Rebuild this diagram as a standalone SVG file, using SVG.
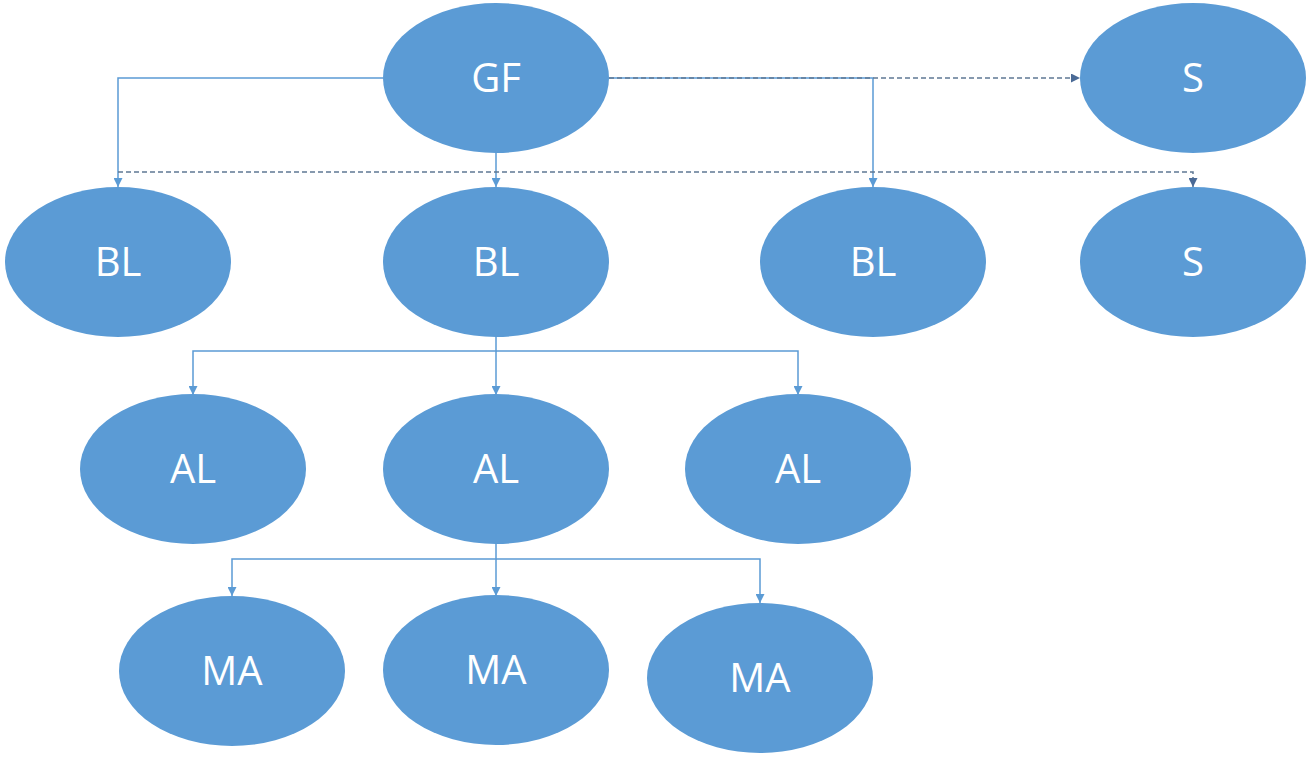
<svg xmlns="http://www.w3.org/2000/svg" width="1313" height="760" viewBox="0 0 1313 760">
<style>
.n{fill:#5B9BD5}
.t{fill:#fff;font-family:"Open Sans","Liberation Sans",sans-serif;font-size:40px;text-anchor:middle;dominant-baseline:central}
.c{fill:none;stroke:#5B9BD5;stroke-width:1.5}
.d{fill:none;stroke:#5F7894;stroke-width:1.5;stroke-dasharray:5 3}
</style>
<defs>
<marker id="a" viewBox="0 0 10 10" refX="10" refY="5" markerWidth="9" markerHeight="9" orient="auto" markerUnits="userSpaceOnUse"><path d="M0,0L10,5L0,10z" fill="#5B9BD5"/></marker>
<marker id="b" viewBox="0 0 10 10" refX="10" refY="5" markerWidth="9" markerHeight="9" orient="auto" markerUnits="userSpaceOnUse"><path d="M0,0L10,5L0,10z" fill="#4A6A96"/></marker>
</defs>
<rect width="1313" height="760" fill="#fff"/>
<g id="connectors">
<path class="c" d="M383,78H118V187" marker-end="url(#a)"/>
<path class="c" d="M496,153V187" marker-end="url(#a)"/>
<path class="c" d="M609,78H873V187" marker-end="url(#a)"/>
<path class="d" d="M609,78H1080" marker-end="url(#b)"/>
<path class="d" d="M118,172H1193V187" marker-end="url(#b)"/>
<path class="c" d="M496,336V351H193V395" marker-end="url(#a)"/>
<path class="c" d="M496,351V395" marker-end="url(#a)"/>
<path class="c" d="M496,351H798V395" marker-end="url(#a)"/>
<path class="c" d="M496,544V559H232V596" marker-end="url(#a)"/>
<path class="c" d="M496,559V596" marker-end="url(#a)"/>
<path class="c" d="M496,559H760V603" marker-end="url(#a)"/>
</g>
<g id="gf"><ellipse class="n" cx="496" cy="78" rx="113" ry="75"/><text class="t" x="496" y="76">GF</text></g>
<g id="s1"><ellipse class="n" cx="1193" cy="78" rx="113" ry="75"/><text class="t" x="1193" y="76">S</text></g>
<g id="bl1"><ellipse class="n" cx="118" cy="262" rx="113" ry="75"/><text class="t" x="118" y="260">BL</text></g>
<g id="bl2"><ellipse class="n" cx="496" cy="262" rx="113" ry="75"/><text class="t" x="496" y="260">BL</text></g>
<g id="bl3"><ellipse class="n" cx="873" cy="262" rx="113" ry="75"/><text class="t" x="873" y="260">BL</text></g>
<g id="s2"><ellipse class="n" cx="1193" cy="262" rx="113" ry="75"/><text class="t" x="1193" y="260">S</text></g>
<g id="al1"><ellipse class="n" cx="193" cy="469" rx="113" ry="75"/><text class="t" x="193" y="467">AL</text></g>
<g id="al2"><ellipse class="n" cx="496" cy="469" rx="113" ry="75"/><text class="t" x="496" y="467">AL</text></g>
<g id="al3"><ellipse class="n" cx="798" cy="469" rx="113" ry="75"/><text class="t" x="798" y="467">AL</text></g>
<g id="ma1"><ellipse class="n" cx="232" cy="671" rx="113" ry="75"/><text class="t" x="232" y="669">MA</text></g>
<g id="ma2"><ellipse class="n" cx="496" cy="670" rx="113" ry="75"/><text class="t" x="496" y="668">MA</text></g>
<g id="ma3"><ellipse class="n" cx="760" cy="678" rx="113" ry="75"/><text class="t" x="760" y="676">MA</text></g>
</svg>
